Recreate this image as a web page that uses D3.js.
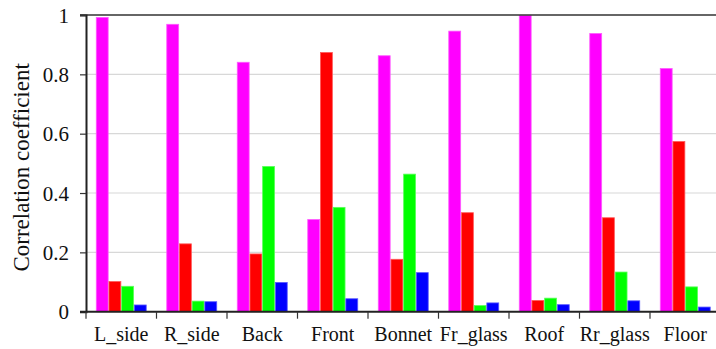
<!DOCTYPE html>
<html>
<head>
<meta charset="utf-8">
<script src="https://cdn.jsdelivr.net/npm/d3@7"></script>
<style>
html,body{margin:0;padding:0;background:#fff;overflow:hidden;}
svg{display:block;}
</style>
</head>
<body>
<svg id="chart" width="716" height="349"></svg>
<script>
const categories = ["L_side","R_side","Back","Front","Bonnet","Fr_glass","Roof","Rr_glass","Floor"];
const seriesNames = ["s1","s2","s3","s4"];
const seriesColors = ["#ff00ff","#ff0000","#00ff00","#0000ff"];
const s1 = [0.993,0.970,0.842,0.312,0.864,0.947,1.000,0.939,0.821];
const s2 = [0.103,0.230,0.196,0.875,0.178,0.335,0.039,0.318,0.575];
const s3 = [0.087,0.037,0.491,0.353,0.465,0.022,0.047,0.135,0.085];
const s4 = [0.024,0.035,0.100,0.045,0.133,0.031,0.025,0.038,0.017];
const yTicks = [0,0.2,0.4,0.6,0.8,1];
const yLabel = "Correlation coefficient";

(function(){
const FONT = "'Liberation Serif'";
const seriesValues = [s1,s2,s3,s4];
const data = categories.map((c,i)=>({cat:c, vals:seriesValues.map((s,j)=>({k:seriesNames[j], v:s[i], color:seriesColors[j]}))}));

const svg = d3.select("#chart").attr("font-family",FONT);
const mL = 86, mR = 720.5, mT = 15, mB = 311.7;

const x0 = d3.scaleBand().domain(categories).range([mL,mR]).paddingInner(0.28).paddingOuter(0.14);
const x1 = d3.scaleBand().domain(seriesNames).range([0,x0.bandwidth()]);
const y = d3.scaleLinear().domain([0,1]).range([mB,mT]);

// gridlines
svg.append("g").selectAll("line").data(yTicks.filter(t=>t>0 && t<1)).join("line")
  .attr("x1",mL).attr("x2",716).attr("y1",d=>y(d)).attr("y2",d=>y(d))
  .attr("stroke","#d8d8d8").attr("stroke-width",1.2);

// bars
const groups = svg.append("g").selectAll("g").data(data).join("g")
  .attr("transform",d=>`translate(${x0(d.cat)},0)`);
groups.selectAll("rect").data(d=>d.vals).join("rect")
  .attr("x",d=>x1(d.k)+0.4).attr("width",x1.bandwidth()-0.8)
  .attr("y",d=>y(d.v)+0.4).attr("height",d=>Math.max(0,y(0)-y(d.v)-0.4))
  .attr("fill",d=>d.color)
  .attr("stroke",d=>d3.interpolateRgb(d.color,"#ffffff")(0.35))
  .attr("stroke-width",0.8);

// top line
svg.append("line").attr("x1",80).attr("x2",716).attr("y1",y(1)).attr("y2",y(1))
  .attr("stroke","#333").attr("stroke-width",1.5);

// y axis
const yAxis = d3.axisLeft(y).tickValues(yTicks).tickFormat(d=>d3.format("")(d)).tickSize(6).tickPadding(11);
const ya = svg.append("g").attr("transform",`translate(${mL},0)`).call(yAxis)
  .attr("font-family",FONT).attr("font-size",21);
ya.select(".domain").attr("stroke","#222").attr("stroke-width",2);
ya.selectAll(".tick line").attr("stroke","#333").attr("stroke-width",1.2);
ya.selectAll(".tick text").attr("font-family",FONT).attr("font-size",21).attr("fill","#111").attr("dy","0.34em");

// x axis
const xBoundaries = categories.map(c=>x0(c)-x0.step()*0.14);
svg.append("line").attr("x1",80).attr("x2",716).attr("y1",mB).attr("y2",mB)
  .attr("stroke","#222").attr("stroke-width",2);
svg.append("g").selectAll("line").data(xBoundaries).join("line")
  .attr("x1",d=>d).attr("x2",d=>d).attr("y1",mB).attr("y2",mB+7)
  .attr("stroke","#333").attr("stroke-width",1.2);
svg.append("g").selectAll("text").data(categories).join("text")
  .attr("x",d=>x0(d)+x0.bandwidth()/2).attr("y",341)
  .attr("text-anchor","middle").attr("font-family",FONT).attr("font-size",20).attr("fill","#111").text(d=>d);

// y label
svg.append("text").attr("transform",`translate(29,${(mT+mB)/2+4}) rotate(-90)`)
  .attr("text-anchor","middle").attr("font-family",FONT).attr("font-size",23).attr("fill","#111").text(yLabel);
})();
</script>
</body>
</html>
